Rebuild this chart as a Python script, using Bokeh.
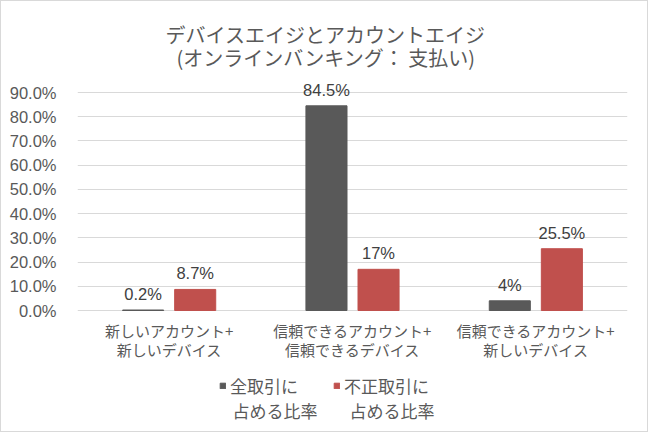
from bokeh.plotting import figure
from bokeh.models import ColumnDataSource, FactorRange, Range1d, Label, Legend, LegendItem, FixedTicker
from bokeh.transform import dodge
from bokeh.core.properties import value
from bokeh.embed import file_html
from bokeh.resources import INLINE

# ---- data ----
categories = [
    "新しいアカウント+\n新しいデバイス",
    "信頼できるアカウント+\n信頼できるデバイス",
    "信頼できるアカウント+\n新しいデバイス",
]
all_share = [0.2, 84.5, 4.0]          # 全取引に占める比率 (%)
fraud_share = [8.7, 17.0, 25.5]       # 不正取引に占める比率 (%)
all_labels = ["0.2%", "84.5%", "4%"]
fraud_labels = ["8.7%", "17%", "25.5%"]
series_names = [["全取引に", "占める比率"], ["不正取引に", "占める比率"]]
y_ticks = [0, 10, 20, 30, 40, 50, 60, 70, 80, 90]
y_tick_labels = ["0.0%", "10.0%", "20.0%", "30.0%", "40.0%", "50.0%", "60.0%", "70.0%", "80.0%", "90.0%"]
title_lines = ["デバイスエイジとアカウントエイジ", "(オンラインバンキング： 支払い)"]

JP = "Noto Sans CJK JP"
NUM = "Liberation Sans"
TXT = "#595959"

# layout (pixels): the drawing area spans the whole canvas height (432);
# the 90% line lies 91px below the top and the 0% line 123px above the bottom
H = 432
TOP_PX, BOTTOM_PX = 91, 123
px_per_unit = (H - TOP_PX - BOTTOM_PX) / y_ticks[-1]
y_start = -BOTTOM_PX / px_per_unit
y_end = y_ticks[-1] + TOP_PX / px_per_unit

src = ColumnDataSource(dict(cat=categories, all=all_share, fraud=fraud_share,
                            all_lbl=all_labels, fraud_lbl=fraud_labels))

p = figure(width=648, height=H, x_range=FactorRange(*categories), y_range=Range1d(y_start, y_end),
           output_backend="svg", toolbar_location=None,
           min_border_left=76, min_border_right=22, min_border_top=0, min_border_bottom=0)
p.styles = {"border": "1px solid #d9d9d9"}
p.outline_line_color = None
p.background_fill_color = "white"

# axes
p.xaxis.visible = False
p.xgrid.visible = False
p.ygrid.grid_line_color = "#d9d9d9"
p.ygrid.grid_line_width = 1
p.yaxis.ticker = FixedTicker(ticks=y_ticks)
p.yaxis.major_label_overrides = {t: l for t, l in zip(y_ticks, y_tick_labels)}
p.yaxis.axis_line_color = None
p.yaxis.major_tick_line_color = None
p.yaxis.minor_tick_line_color = None
p.yaxis.major_label_standoff = 15
p.yaxis.major_label_text_font = NUM
p.yaxis.major_label_text_font_size = "16.5px"
p.yaxis.major_label_text_color = TXT

# category labels under the 0% line
p.text(x="cat", y=0, text="cat", source=src, text_align="center", text_baseline="top",
       y_offset=9, text_font=value(JP), text_font_size="15px", text_color=TXT,
       text_line_height=0.92)

off = 0.142
bw = 0.224
r_all = p.vbar(x=dodge("cat", -off, range=p.x_range), top="all", width=bw, source=src,
               fill_color="#595959", line_color="#595959")
r_fraud = p.vbar(x=dodge("cat", off, range=p.x_range), top="fraud", width=bw, source=src,
                 fill_color="#c0504d", line_color="#c0504d")

for col, lbl, d in (("all", "all_lbl", -off), ("fraud", "fraud_lbl", off)):
    p.text(x=dodge("cat", d, range=p.x_range), y=col, text=lbl, source=src,
           text_align="center", text_baseline="middle", y_offset=-16,
           text_font=value(NUM), text_font_size="16.5px", text_color="#404040")

# title (two lines), centered on the whole chart
for yy, line in zip((H - 33, H - 56), title_lines):
    p.add_layout(Label(x=248, y=yy, x_units="screen", y_units="screen", text=line,
                       text_align="center", text_baseline="middle", text_font=JP,
                       text_font_size="20px", text_color=TXT))

# legend: swatch next to the first line of each two-line name
legend = Legend(items=[LegendItem(label=series_names[0][0], renderers=[r_all]),
                       LegendItem(label=series_names[1][0], renderers=[r_fraud])],
                orientation="horizontal", location=(142, 35),
                glyph_width=7, glyph_height=7, label_standoff=4, spacing=35,
                padding=0, margin=0, border_line_color=None, background_fill_alpha=0,
                label_text_font=JP, label_text_font_size="17px", label_text_color=TXT)
p.add_layout(legend)
for xs, name in zip((155, 272), series_names):
    p.add_layout(Label(x=xs, y=23, x_units="screen", y_units="screen", text=name[1],
                       text_align="left", text_baseline="middle", text_font=JP,
                       text_font_size="17px", text_color=TXT))

open("out.html", "w").write(file_html(p, INLINE))
